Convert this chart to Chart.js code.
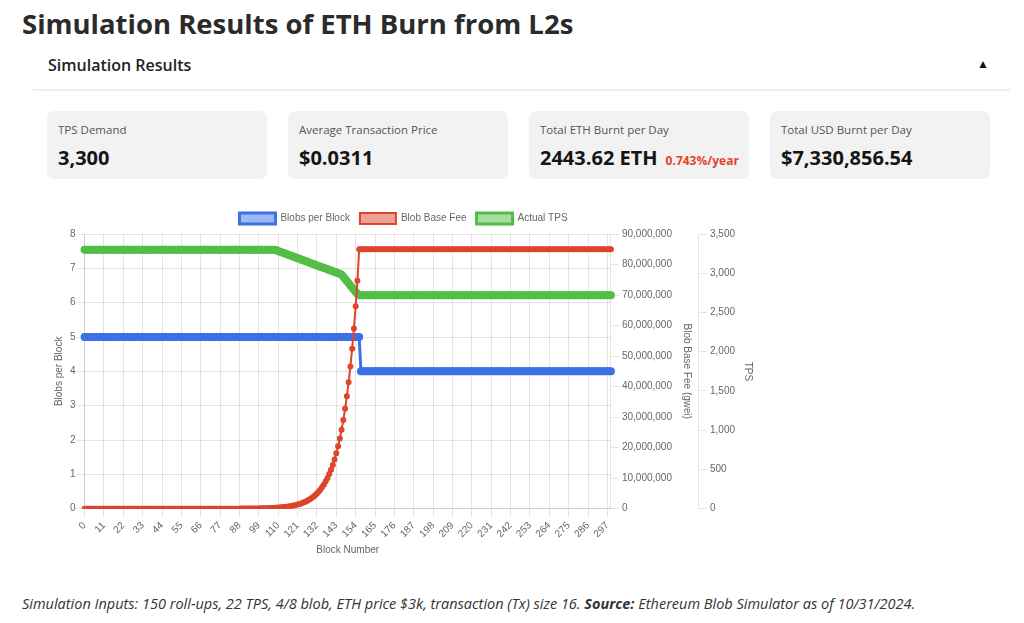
<!DOCTYPE html>
<html>
<head>
<meta charset="utf-8">
<script src="https://cdn.jsdelivr.net/npm/chart.js@4.4.1/dist/chart.umd.min.js"></script>
<style>
	body { margin: 0; background: #fff; font-family: 'Open Sans', sans-serif; width: 1024px; height: 623px; overflow: hidden; position: relative; }
	h1 { position: absolute; left: 22px; top: 5px; margin: 0; font-size: 27.5px; font-weight: 700; color: #2b2b2b; line-height: 38px; }
	.section { position: absolute; left: 48px; top: 54px; font-size: 16px; font-weight: 600; color: #222; line-height: 22px; }
	.toggle { position: absolute; left: 977px; top: 55px; font-size: 12px; color: #111; line-height: 18px; }
	.rule { position: absolute; left: 33px; top: 89px; width: 977px; height: 2px; background: #eeeeee; }
	.card { position: absolute; top: 111px; width: 220px; height: 68px; background: #f2f2f2; border-radius: 7px; }
	.card .lbl { position: absolute; left: 11px; top: 11px; font-size: 11.5px; color: #555; line-height: 16px; }
	.card .val { position: absolute; left: 11px; top: 33px; font-size: 20px; font-weight: 700; color: #151515; line-height: 28px; white-space: nowrap; }
	.card .val span { font-size: 12px; color: #e5432d; margin-left: 8px; }
	#chartBox { position: absolute; left: 49px; top: 203px; width: 709px; height: 357px; }
	.note { position: absolute; left: 22px; top: 594px; font-size: 14.5px; font-style: italic; color: #333; line-height: 20px; white-space: nowrap; }
</style>
</head>
<body>
<h1>Simulation Results of ETH Burn from L2s</h1>
<div class="section">Simulation Results</div>
<div class="toggle">▲</div>
<div class="rule"></div>

<div class="card" style="left:47px"><div class="lbl">TPS Demand</div><div class="val">3,300</div></div>
<div class="card" style="left:288px"><div class="lbl">Average Transaction Price</div><div class="val">$0.0311</div></div>
<div class="card" style="left:529px"><div class="lbl">Total ETH Burnt per Day</div><div class="val">2443.62 ETH<span>0.743%/year</span></div></div>
<div class="card" style="left:770px"><div class="lbl">Total USD Burnt per Day</div><div class="val">$7,330,856.54</div></div>

<div id="chartBox"><canvas id="simChart"></canvas></div>

<div class="note">Simulation Inputs: 150 roll-ups, 22 TPS, 4/8 blob, ETH price $3k, transaction (Tx) size 16. <b>Source:</b> Ethereum Blob Simulator as of 10/31/2024.</div>

<script>
// block numbers 0..299
const blockNumbers = []
for (let i = 0; i < 300; i++) blockNumbers.push(String(i))

// blobs per block
const blobsPerBlock = [
	5,5,5,5,5,5,5,5,5,5,5,5,5,5,5,5,5,5,5,5,
	5,5,5,5,5,5,5,5,5,5,5,5,5,5,5,5,5,5,5,5,
	5,5,5,5,5,5,5,5,5,5,5,5,5,5,5,5,5,5,5,5,
	5,5,5,5,5,5,5,5,5,5,5,5,5,5,5,5,5,5,5,5,
	5,5,5,5,5,5,5,5,5,5,5,5,5,5,5,5,5,5,5,5,
	5,5,5,5,5,5,5,5,5,5,5,5,5,5,5,5,5,5,5,5,
	5,5,5,5,5,5,5,5,5,5,5,5,5,5,5,5,5,5,5,5,
	5,5,5,5,5,5,5,5,5,5,5,5,5,5,5,5,5,4,4,4,
	4,4,4,4,4,4,4,4,4,4,4,4,4,4,4,4,4,4,4,4,
	4,4,4,4,4,4,4,4,4,4,4,4,4,4,4,4,4,4,4,4,
	4,4,4,4,4,4,4,4,4,4,4,4,4,4,4,4,4,4,4,4,
	4,4,4,4,4,4,4,4,4,4,4,4,4,4,4,4,4,4,4,4,
	4,4,4,4,4,4,4,4,4,4,4,4,4,4,4,4,4,4,4,4,
	4,4,4,4,4,4,4,4,4,4,4,4,4,4,4,4,4,4,4,4,
	4,4,4,4,4,4,4,4,4,4,4,4,4,4,4,4,4,4,4,4
]

// blob base fee (gwei)
const blobBaseFee = [
	0,0,0,0,0,0,0,0,0,0,0,0,0,0,0,0,0,0,0,0,
	0,0,0,0,0,0,0,0,0,0,0,0,0,0,0,0,0,0,0,0,
	0,0,0,0,0,0,0,0,0,0,0,0,0,0,0,0,0,0,0,0,
	0,0,0,0,0,0,0,0,0,0,0,0,0,0,0,0,0,0,0,0,
	11000,12000,14000,16000,18000,20000,22000,25000,28000,32000,36000,40000,45000,51000,57000,64000,72000,81000,91000,102000,
	115000,129000,145000,164000,184000,207000,233000,262000,295000,331000,373000,419000,472000,531000,597000,672000,756000,850000,956000,1080000,
	1210000,1360000,1530000,1720000,1940000,2180000,2450000,2760000,3110000,3490000,3930000,4420000,4970000,5600000,6300000,7080000,7970000,8960000,10080000,11340000,
	12760000,14350000,16150000,18170000,20440000,22990000,25870000,29100000,32740000,36830000,41430000,46610000,52440000,59000000,66370000,74670000,85000000,85000000,85000000,85000000,
	85000000,85000000,85000000,85000000,85000000,85000000,85000000,85000000,85000000,85000000,85000000,85000000,85000000,85000000,85000000,85000000,85000000,85000000,85000000,85000000,
	85000000,85000000,85000000,85000000,85000000,85000000,85000000,85000000,85000000,85000000,85000000,85000000,85000000,85000000,85000000,85000000,85000000,85000000,85000000,85000000,
	85000000,85000000,85000000,85000000,85000000,85000000,85000000,85000000,85000000,85000000,85000000,85000000,85000000,85000000,85000000,85000000,85000000,85000000,85000000,85000000,
	85000000,85000000,85000000,85000000,85000000,85000000,85000000,85000000,85000000,85000000,85000000,85000000,85000000,85000000,85000000,85000000,85000000,85000000,85000000,85000000,
	85000000,85000000,85000000,85000000,85000000,85000000,85000000,85000000,85000000,85000000,85000000,85000000,85000000,85000000,85000000,85000000,85000000,85000000,85000000,85000000,
	85000000,85000000,85000000,85000000,85000000,85000000,85000000,85000000,85000000,85000000,85000000,85000000,85000000,85000000,85000000,85000000,85000000,85000000,85000000,85000000,
	85000000,85000000,85000000,85000000,85000000,85000000,85000000,85000000,85000000,85000000,85000000,85000000,85000000,85000000,85000000,85000000,85000000,85000000,85000000,85000000
]

// actual TPS
const actualTps = [
	3300,3300,3300,3300,3300,3300,3300,3300,3300,3300,3300,3300,3300,3300,3300,3300,3300,3300,3300,3300,
	3300,3300,3300,3300,3300,3300,3300,3300,3300,3300,3300,3300,3300,3300,3300,3300,3300,3300,3300,3300,
	3300,3300,3300,3300,3300,3300,3300,3300,3300,3300,3300,3300,3300,3300,3300,3300,3300,3300,3300,3300,
	3300,3300,3300,3300,3300,3300,3300,3300,3300,3300,3300,3300,3300,3300,3300,3300,3300,3300,3300,3300,
	3300,3300,3300,3300,3300,3300,3300,3300,3300,3300,3300,3300,3300,3300,3300,3300,3300,3300,3300,3300,
	3300,3300,3300,3300,3300,3300,3300,3300,3300,3292,3284,3275,3267,3259,3250,3242,3234,3225,3217,3209,
	3200,3192,3184,3175,3167,3159,3150,3142,3134,3125,3117,3109,3100,3092,3084,3075,3067,3059,3050,3042,
	3034,3025,3017,3009,3000,2992,2980,2955,2928,2900,2872,2845,2818,2790,2762,2738,2720,2720,2720,2720,
	2720,2720,2720,2720,2720,2720,2720,2720,2720,2720,2720,2720,2720,2720,2720,2720,2720,2720,2720,2720,
	2720,2720,2720,2720,2720,2720,2720,2720,2720,2720,2720,2720,2720,2720,2720,2720,2720,2720,2720,2720,
	2720,2720,2720,2720,2720,2720,2720,2720,2720,2720,2720,2720,2720,2720,2720,2720,2720,2720,2720,2720,
	2720,2720,2720,2720,2720,2720,2720,2720,2720,2720,2720,2720,2720,2720,2720,2720,2720,2720,2720,2720,
	2720,2720,2720,2720,2720,2720,2720,2720,2720,2720,2720,2720,2720,2720,2720,2720,2720,2720,2720,2720,
	2720,2720,2720,2720,2720,2720,2720,2720,2720,2720,2720,2720,2720,2720,2720,2720,2720,2720,2720,2720,
	2720,2720,2720,2720,2720,2720,2720,2720,2720,2720,2720,2720,2720,2720,2720,2720,2720,2720,2720,2720
]

Chart.defaults.font.family = "'Liberation Sans', Arial, sans-serif"
Chart.defaults.font.size = 10
Chart.defaults.color = '#666'

const axisTitle = (text, padding) => ({ display: true, text: text, font: { size: 10 }, padding: padding })

new Chart(document.getElementById('simChart'), {
	type: 'line',
	data: {
		labels: blockNumbers,
		datasets: [
			{
				label: 'Blobs per Block',
				data: blobsPerBlock,
				borderColor: 'rgb(59, 113, 230)',
				backgroundColor: 'rgba(59, 113, 230, 0.5)',
				borderWidth: 3,
				pointRadius: 2.5,
				yAxisID: 'y',
				order: 1,
			},
			{
				label: 'Blob Base Fee',
				data: blobBaseFee,
				borderColor: 'rgb(222, 68, 44)',
				backgroundColor: 'rgba(222, 68, 44, 0.5)',
				borderWidth: 2,
				pointRadius: 2,
				yAxisID: 'y1',
				order: 0,
			},
			{
				label: 'Actual TPS',
				data: actualTps,
				borderColor: 'rgb(82, 190, 70)',
				backgroundColor: 'rgba(82, 190, 70, 0.5)',
				borderWidth: 3,
				pointRadius: 2.5,
				yAxisID: 'y2',
				order: 1,
			},
		],
	},
	options: {
		responsive: true,
		maintainAspectRatio: false,
		animation: false,
		locale: 'en-US',
		plugins: {
			legend: {
				position: 'top',
				labels: {
					boxWidth: 36,
					boxHeight: 11,
					font: { size: 10 },
					sort: (a, b) => a.datasetIndex - b.datasetIndex,
				},
			},
			tooltip: { enabled: false },
		},
		scales: {
			x: {
				title: axisTitle('Block Number', { top: 1, bottom: 4 }),
				ticks: {
					autoSkip: false,
					minRotation: 45,
					maxRotation: 45,
					callback: (val, i) => (i % 11 === 0 ? blockNumbers[i] : null),
				},
			},
			y: {
				position: 'left',
				min: 0,
				max: 8,
				ticks: { stepSize: 1, padding: 1 },
				title: axisTitle('Blobs per Block', 4),
			},
			y1: {
				position: 'right',
				min: 0,
				max: 90000000,
				ticks: { stepSize: 10000000 },
				grid: { drawOnChartArea: false },
				title: axisTitle('Blob Base Fee (gwei)', 6),
			},
			y2: {
				position: 'right',
				min: 0,
				max: 3500,
				ticks: { stepSize: 500 },
				grid: { drawOnChartArea: false },
				title: axisTitle('TPS', 4),
			},
		},
	},
})
</script>
</body>
</html>
